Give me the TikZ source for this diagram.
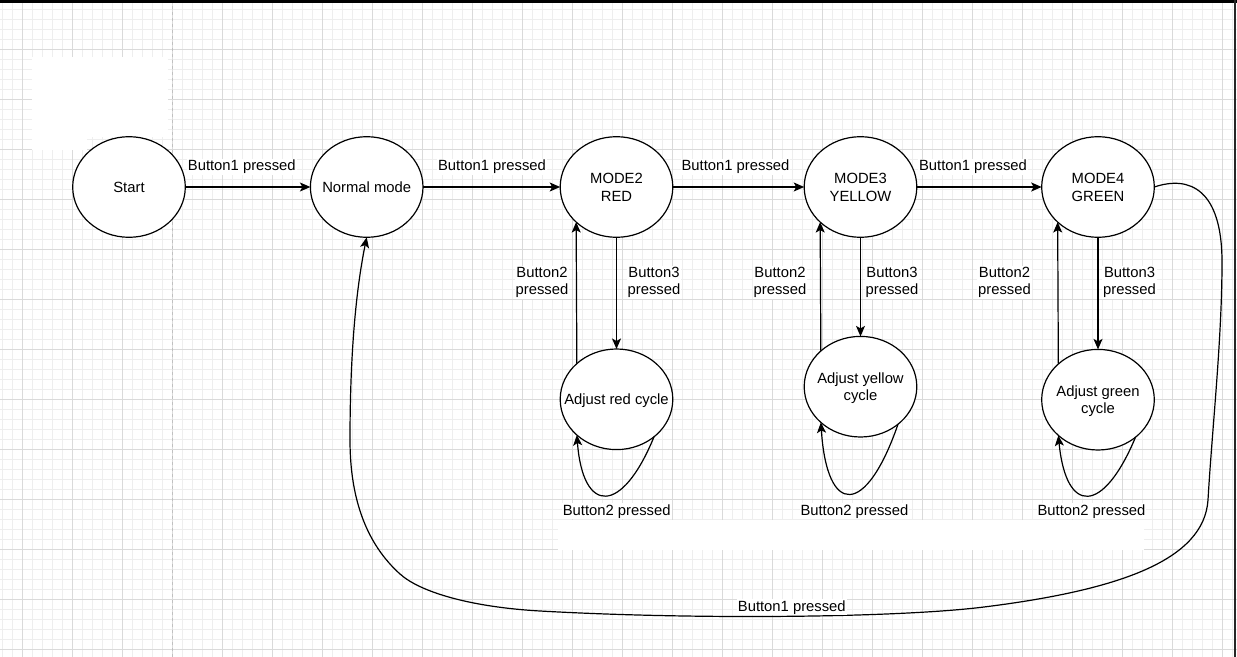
\documentclass[tikz,border=0pt]{standalone}
\usepackage{fontspec}
\setmainfont{Liberation Sans}
\usetikzlibrary{arrows.meta,shapes.geometric}
\definecolor{gridmajor}{HTML}{DADADA}
\definecolor{gridminor}{HTML}{EEEEEE}
\definecolor{dashgray}{HTML}{C0C0C0}
\newcommand\diafont{\fontsize{14.8bp}{17.7bp}\selectfont}
\newcommand\onel[1]{\makebox[0pt]{#1}}
\newcommand\twol[2]{\makebox[0pt]{\begin{tabular}[b]{@{}c@{}}#1\\#2\end{tabular}}}
\tikzset{
  state/.style={ellipse, draw=black, fill=white, line width=1.2bp,
    minimum width=112.6bp, minimum height=100.6bp, inner sep=0pt, outer sep=0pt,
    font=\diafont, text depth=0pt},
  oneline/.style={state, text height=10.7bp},
  twoline/.style={state, text height=28.4bp},
  arr/.style={draw=black, line width=1.2bp, -{Stealth[length=10.5bp,width=9bp,inset=2.5bp]}},
  lab/.style={fill=white, inner sep=1bp, font=\diafont, align=center},
  minorline/.style={draw=gridminor, line width=1bp},
  majorline/.style={draw=gridmajor, line width=1bp},
}
\begin{document}
\begin{tikzpicture}[x=1bp,y=-1bp]
\useasboundingbox (0,0) rectangle (1237,657);
\fill[white] (0,0) rectangle (1237,657);
% grid
\foreach \i in {0,...,123} {\draw[minorline] ({2.7+10*\i},0) -- ({2.7+10*\i},657);}
\foreach \i in {0,...,64} {\draw[minorline] (0,{9.5+10*\i}) -- (1237,{9.5+10*\i});}
\foreach \i in {0,...,24} {\draw[majorline] ({22.7+50*\i},0) -- ({22.7+50*\i},657);}
\foreach \i in {0,...,12} {\draw[majorline] (0,{49.5+50*\i}) -- (1237,{49.5+50*\i});}
% white patches
\fill[white] (31.7,56.7) rectangle (168.3,136.7);
\fill[white] (31.7,136) rectangle (87.3,150);
\fill[white] (558,520) rectangle (1144,550);
% dashed guide
\draw[dashgray, line width=1bp, dash pattern=on 3bp off 3bp] (172.7,0) -- (172.7,657);

% states
\node[oneline] (start) at (129,187) {\onel{Start}};
\node[oneline] (normal) at (366.7,187) {\onel{Normal mode}};
\node[twoline] (m2) at (616.5,187) {\twol{MODE2}{RED}};
\node[twoline] (m3) at (860.5,187) {\twol{MODE3}{YELLOW}};
\node[twoline] (m4) at (1098,187) {\twol{MODE4}{GREEN}};
\node[oneline] (ar) at (616.5,399.3) {\onel{Adjust red cycle}};
\node[twoline] (ay) at (860.5,386.7) {\twol{Adjust yellow}{cycle}};
\node[twoline] (ag) at (1098,399.7) {\twol{Adjust green}{cycle}};

% transitions
\draw[arr] (start) -- (normal);
\draw[arr] (normal) -- (m2);
\draw[arr] (m2) -- (m3);
\draw[arr] (m3) -- (m4);

\draw[arr] (m2.south) -- (ar.north);
\draw[arr] (ar.138.5) -- (m2.221.5);
\draw[arr] (m3.south) -- (ay.north);
\draw[arr] (ay.138.5) -- (m3.221.5);
\draw[arr] (m4.south) -- (ag.north);
\draw[arr] (ag.138.5) -- (m4.221.5);

\draw[arr] (ar.315) .. controls (622,515) and (583,515) .. (ar.222);
\draw[arr] (ay.315) .. controls (866,517) and (827,517) .. (ay.222);
\draw[arr] (ag.315) .. controls (1103,515) and (1066,515) .. (ag.222);

\draw[arr] (m4.east) .. controls (1190,175) and (1222,190) .. (1222,262)
  .. controls (1222,340) and (1212,430) .. (1208,500)
  .. controls (1204,560) and (1120,590) .. (984,607)
  .. controls (900,617.5) and (700,620) .. (540,611)
  .. controls (470,607) and (420,592) .. (400,574)
  .. controls (367,544.3) and (350,500) .. (350,440)
  .. controls (350,340) and (358,280) .. (normal.south);

% labels
\node[lab, anchor=base] (l1) at (241.8,170.7) {Button1 pressed};
\node[lab, anchor=base] (l2) at (492,170.7) {Button1 pressed};
\node[lab, anchor=base] (l3) at (735.5,170.7) {Button1 pressed};
\node[lab, anchor=base] (l4) at (973,170.7) {Button1 pressed};

\node[lab] (r2) at (542,282.5) {Button2\\pressed};
\node[lab] (r3) at (654,282.5) {Button3\\pressed};
\node[lab] (y2) at (780,282.5) {Button2\\pressed};
\node[lab] (y3) at (892,282.5) {Button3\\pressed};
\node[lab] (g2) at (1004.5,282.5) {Button2\\pressed};
\node[lab] (g3) at (1129.5,282.5) {Button3\\pressed};

\node[lab, anchor=base] (rl) at (616.7,515) {Button2 pressed};
\node[lab, anchor=base] (yl) at (854.4,515) {Button2 pressed};
\node[lab, anchor=base] (gl) at (1091.5,515) {Button2 pressed};

\node[lab, anchor=base] (bl) at (791.8,611) {Button1 pressed};

% frame lines
\draw[black, line width=2.5bp] (0,1.5) -- (1237,1.5);
\draw[black!85, line width=2bp] (1234.5,0) -- (1234.5,657);
\end{tikzpicture}
\end{document}
